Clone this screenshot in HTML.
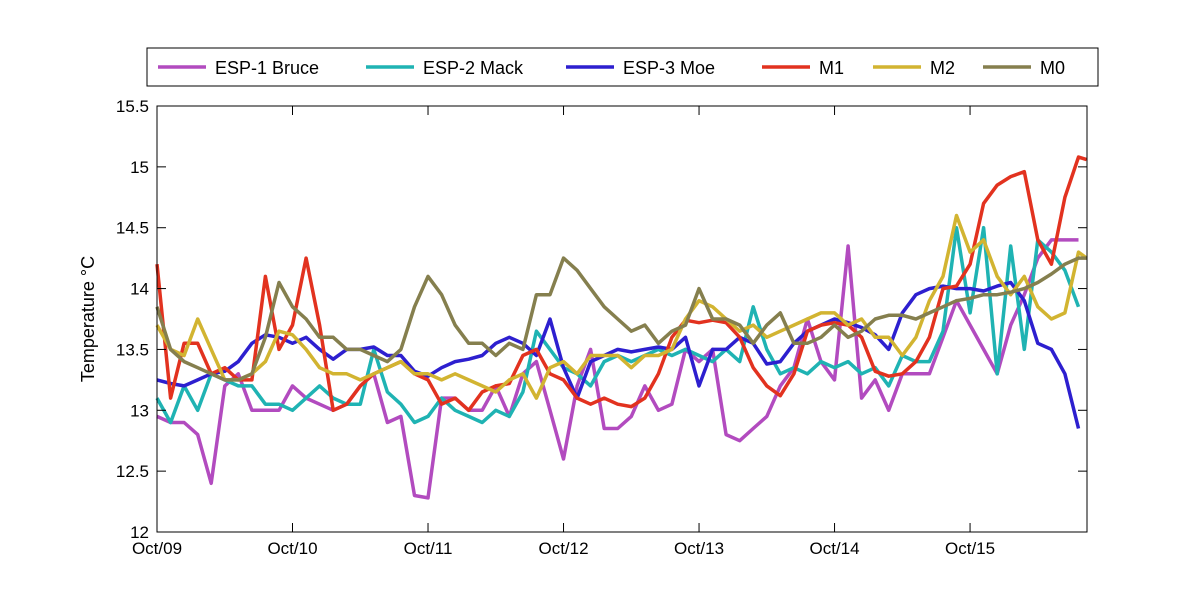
<!DOCTYPE html>
<html><head><meta charset="utf-8"><style>
body{margin:0;background:#fff;}
svg{display:block;font-family:"Liberation Sans",Arial,sans-serif;}
</style></head><body>
<svg id="chart" width="1200" height="600">
<rect width="1200" height="600" fill="#fff"/>
<g id="series"></g>
<g id="axes"></g>
<g id="legend"></g>
<text x="0" y="0" transform="translate(94,319) rotate(-90)" text-anchor="middle" font-size="18">Temperature °C</text>
</svg>
<script>
const days = [0,0.1,0.2,0.3,0.4,0.5,0.6,0.7,0.8,0.9,1.0,1.1,1.2,1.3,1.4,1.5,1.6,1.7,1.8,1.9,2.0,2.1,2.2,2.3,2.4,2.5,2.6,2.7,2.8,2.9,3.0,3.1,3.2,3.3,3.4,3.5,3.6,3.7,3.8,3.9,4.0,4.1,4.2,4.3,4.4,4.5,4.6,4.7,4.8,4.9,5.0,5.1,5.2,5.3,5.4,5.5,5.6,5.7,5.8,5.9,6.0,6.1,6.2,6.3,6.4,6.5,6.6,6.7,6.8,6.86];
const esp1Bruce = [12.95,12.9,12.9,12.8,12.4,13.2,13.3,13.0,13.0,13.0,13.2,13.1,13.05,13.0,13.05,13.2,13.3,12.9,12.95,12.3,12.28,13.1,13.1,13.0,13.0,13.2,12.95,13.3,13.4,13.0,12.6,13.2,13.5,12.85,12.85,12.95,13.2,13.0,13.05,13.5,13.4,13.5,12.8,12.75,12.85,12.95,13.2,13.35,13.75,13.4,13.25,14.35,13.1,13.25,13.0,13.3,13.3,13.3,13.6,13.9,13.7,13.5,13.3,13.7,13.95,14.25,14.4,14.4,14.4];
const esp2Mack = [13.1,12.9,13.2,13.0,13.3,13.25,13.2,13.2,13.05,13.05,13.0,13.1,13.2,13.1,13.05,13.05,13.5,13.15,13.05,12.9,12.95,13.1,13.0,12.95,12.9,13.0,12.95,13.15,13.65,13.5,13.35,13.3,13.2,13.4,13.45,13.4,13.45,13.5,13.45,13.5,13.45,13.4,13.5,13.4,13.85,13.5,13.3,13.35,13.3,13.4,13.35,13.4,13.3,13.35,13.2,13.45,13.4,13.4,13.65,14.5,13.8,14.5,13.3,14.35,13.5,14.4,14.3,14.15,13.85];
const esp3Moe = [13.25,13.22,13.2,13.25,13.3,13.32,13.4,13.55,13.62,13.6,13.55,13.6,13.5,13.42,13.5,13.5,13.52,13.45,13.45,13.32,13.28,13.35,13.4,13.42,13.45,13.55,13.6,13.55,13.45,13.75,13.35,13.1,13.4,13.45,13.5,13.48,13.5,13.52,13.5,13.6,13.2,13.5,13.5,13.6,13.55,13.38,13.4,13.55,13.65,13.7,13.75,13.72,13.68,13.62,13.5,13.8,13.95,14.0,14.02,14.0,14.0,13.98,14.02,14.05,13.9,13.55,13.5,13.3,12.85];
const m1 = [14.2,13.1,13.55,13.55,13.3,13.35,13.25,13.25,14.1,13.5,13.7,14.25,13.7,13.0,13.05,13.2,13.3,13.35,13.4,13.3,13.25,13.05,13.1,13.0,13.15,13.2,13.22,13.45,13.5,13.3,13.25,13.1,13.05,13.1,13.05,13.03,13.1,13.3,13.6,13.74,13.72,13.74,13.72,13.6,13.35,13.2,13.12,13.3,13.65,13.7,13.72,13.7,13.6,13.32,13.28,13.3,13.4,13.6,14.0,14.02,14.2,14.7,14.85,14.92,14.96,14.4,14.2,14.75,15.08,15.06];
const m2 = [13.7,13.5,13.45,13.75,13.5,13.25,13.25,13.3,13.4,13.65,13.62,13.5,13.35,13.3,13.3,13.25,13.3,13.35,13.4,13.3,13.3,13.25,13.3,13.25,13.2,13.15,13.25,13.3,13.1,13.35,13.4,13.3,13.45,13.45,13.45,13.35,13.45,13.45,13.5,13.75,13.9,13.85,13.75,13.65,13.7,13.6,13.65,13.7,13.75,13.8,13.8,13.7,13.75,13.6,13.6,13.45,13.6,13.9,14.1,14.6,14.3,14.4,14.1,13.95,14.1,13.85,13.75,13.8,14.3,14.25];
const m0 = [13.85,13.5,13.4,13.35,13.3,13.25,13.25,13.3,13.6,14.05,13.85,13.75,13.6,13.6,13.5,13.5,13.45,13.4,13.5,13.85,14.1,13.95,13.7,13.55,13.55,13.45,13.55,13.5,13.95,13.95,14.25,14.15,14.0,13.85,13.75,13.65,13.7,13.55,13.65,13.7,14.0,13.75,13.75,13.7,13.55,13.7,13.8,13.55,13.55,13.6,13.7,13.6,13.65,13.75,13.78,13.78,13.75,13.8,13.85,13.9,13.92,13.95,13.95,13.97,14.0,14.05,14.12,14.2,14.25,14.25];
const yTicks = [12,12.5,13,13.5,14,14.5,15,15.5];
const yTickLabels = ["12","12.5","13","13.5","14","14.5","15","15.5"];
const xTicks = [0,1,2,3,4,5,6];
const xTickLabels = ["Oct/09","Oct/10","Oct/11","Oct/12","Oct/13","Oct/14","Oct/15"];
const seriesNames = ["ESP-1 Bruce","ESP-2 Mack","ESP-3 Moe","M1","M2","M0"];

const NS="http://www.w3.org/2000/svg";
const L=157,R=1087,T=106,B=532, DMAX=6.863;
const xs=d=>L+(R-L)*d/DMAX;
const ys=v=>B-(B-T)*(v-12)/3.5;
const colors=["#b24bbf","#1fb3b3","#2d1fcf","#e2321f","#d2b431","#857f4e"];
const allSeries=[esp1Bruce,esp2Mack,esp3Moe,m1,m2,m0];
const keys=["esp1-bruce","esp2-mack","esp3-moe","m1","m2","m0"];
function mk(tag,attrs,parent){const e=document.createElementNS(NS,tag);for(const k in attrs)e.setAttribute(k,attrs[k]);parent.appendChild(e);return e;}
const sg=document.getElementById('series');
allSeries.forEach((vals,si)=>{
  let pts=vals.map((v,i)=>xs(days[i]).toFixed(1)+','+ys(v).toFixed(1)).join(' ');
  const p=mk('polyline',{points:pts,fill:'none',stroke:colors[si],'stroke-width':3.5,'stroke-linejoin':'round'},sg);
  
  
});
const ax=document.getElementById('axes');
const fr=mk('rect',{x:L,y:T,width:R-L,height:B-T,fill:'none',stroke:'#000','stroke-width':1},ax);


yTicks.forEach((v,i)=>{
  const y=ys(v);
  mk('line',{x1:L,x2:L+9,y1:y,y2:y,stroke:'#000'},ax);
  mk('line',{x1:R,x2:R-9,y1:y,y2:y,stroke:'#000'},ax);
  const t=mk('text',{x:L-8,y:y+6,'text-anchor':'end','font-size':17},ax);
  t.textContent=yTickLabels[i];
  
  
});
xTicks.forEach((d,i)=>{
  const x=xs(d);
  mk('line',{x1:x,x2:x,y1:B,y2:B-9,stroke:'#000'},ax);
  mk('line',{x1:x,x2:x,y1:T,y2:T+9,stroke:'#000'},ax);
  const t=mk('text',{x:x,y:B+22,'text-anchor':'middle','font-size':17},ax);
  t.textContent=xTickLabels[i];
  
  
});
const lg=document.getElementById('legend');
mk('rect',{x:147,y:48,width:951,height:38,fill:'#fff',stroke:'#000'},lg);
const lx=[158,366,566,762,873,983];
seriesNames.forEach((n,i)=>{
  const g=mk('g',{},lg);
  
  
  mk('line',{x1:lx[i],x2:lx[i]+48,y1:67,y2:67,stroke:colors[i],'stroke-width':3.5},g);
  const t=mk('text',{x:lx[i]+57,y:74,'font-size':18},g);
  t.textContent=n;
});
</script>
</body></html>
